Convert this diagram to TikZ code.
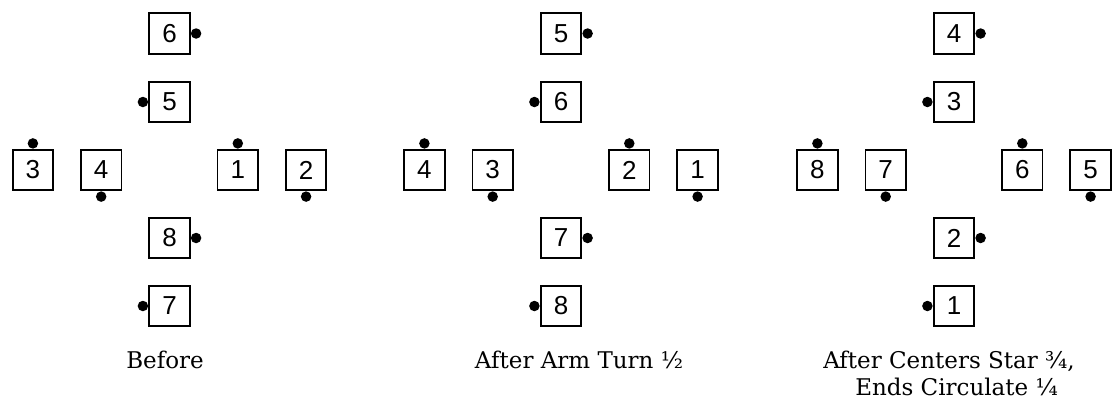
\documentclass[tikz,border=0pt]{standalone}
\usepackage{fontspec}
\setmainfont{DejaVu Serif}
\setsansfont{Liberation Sans}

\begin{document}
\begin{tikzpicture}[x=1pt, y=-1pt,
    box/.style = {draw, line width=1.8pt, minimum size=40.5pt, inner sep=0pt,
                  font=\sffamily\fontsize{26}{26}\selectfont},
    dot/.style = {circle, fill, inner sep=0pt, minimum size=10.5pt},
    dotE/.style = {label={[dot]east:{}}},
    dotW/.style = {label={[dot]west:{}}},
    dotN/.style = {label={[dot]north:{}}},
    dotS/.style = {label={[dot]south:{}}},
    caption/.style = {inner sep=0pt, font=\fontsize{23}{27}\selectfont}]
    \useasboundingbox (0,0) rectangle (1112,399);
    \foreach \cx/\p/\ta/\tb/\la/\lb/\ra/\rb/\ba/\bb in
        {169.5/a/6/5/3/4/1/2/8/7, 561/b/5/6/4/3/2/1/7/8, 954/c/4/3/8/7/6/5/2/1} {
        \node[box, dotE] (\p\ta) at (\cx,33.5)       {\ta};
        \node[box, dotW] (\p\tb) at (\cx,102)        {\tb};
        \node[box, dotN] (\p\la) at (\cx-136.6,170)  {\la};
        \node[box, dotS] (\p\lb) at (\cx-68.3,170)   {\lb};
        \node[box, dotN] (\p\ra) at (\cx+68.3,170)   {\ra};
        \node[box, dotS] (\p\rb) at (\cx+136.6,170)  {\rb};
        \node[box, dotE] (\p\ba) at (\cx,238)        {\ba};
        \node[box, dotW] (\p\bb) at (\cx,306)        {\bb};
    }
    \node[caption] (capA) at (165,360) {Before};
    \node[caption] (capB) at (579,360) {After Arm Turn ½};
    \node[caption, align=left] (capC) at (949,373)
        {After Centers Star ¾,\\\hspace*{32pt}Ends Circulate ¼};
\end{tikzpicture}
\end{document}
